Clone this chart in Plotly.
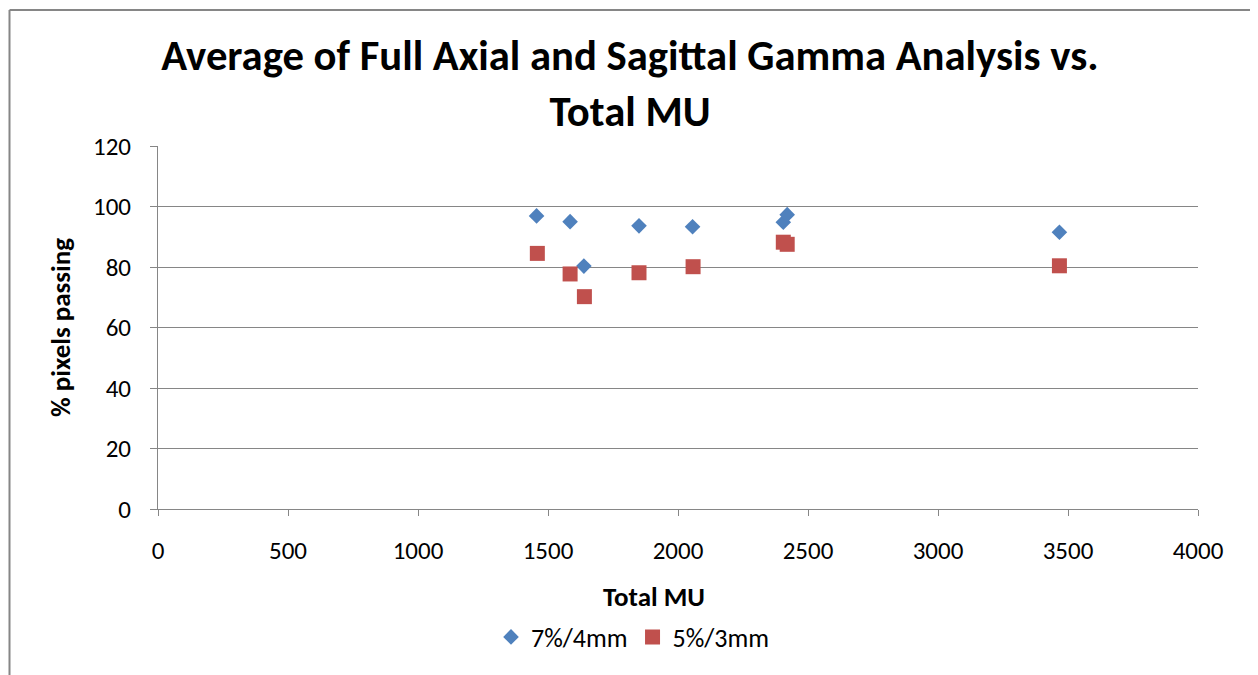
import plotly.graph_objects as go

# Data
mu_7_4 = [1456, 1585, 1638, 1850, 2056, 2405, 2420, 3467]
pass_7_4 = [96.9, 95.0, 80.3, 93.6, 93.3, 94.8, 97.3, 91.5]
mu_5_3 = [1459, 1585, 1640, 1850, 2058, 2405, 2420, 3467]
pass_5_3 = [84.5, 77.7, 70.2, 78.1, 80.1, 88.2, 87.5, 80.4]

FONT = "Carlito, Calibri, 'Liberation Sans Narrow', 'Open Sans', sans-serif"

# page has an 8px body margin; figure placed so plot area sits at screen x 158..1198, y 146..509
W, H = 1250, 667
PW, PH = 1040, 363

def px_x(sx):
    return (sx - 158) / PW

def px_y(sy):
    return (509 - sy) / PH

fig = go.Figure()
fig.add_trace(go.Scatter(
    x=mu_7_4, y=pass_7_4, mode="markers", name="7%/4mm",
    marker=dict(symbol="diamond", size=12, color="#4F81BD"),
))
fig.add_trace(go.Scatter(
    x=mu_5_3, y=pass_5_3, mode="markers", name="5%/3mm",
    marker=dict(symbol="square", size=15, color="#C0504D"),
))

border = dict(color="#868686", width=2)
fig.update_layout(
    width=W, height=H,
    margin=dict(l=150, r=60, t=138, b=166),
    paper_bgcolor="white", plot_bgcolor="white",
    font=dict(family=FONT, size=25, color="black"),
    showlegend=True,
    legend=dict(orientation="h", x=px_x(633), xanchor="center", y=px_y(637), yanchor="middle",
                font=dict(size=26), itemsizing="trace", traceorder="normal"),
    title=dict(text="<b>Average of Full Axial and Sagittal Gamma Analysis vs.<br>Total MU</b>",
               x=px_x(630), xref="paper", xanchor="center", y=0.9065, yanchor="middle",
               font=dict(size=42.7, family=FONT)),
    xaxis=dict(range=[0, 4000], dtick=500, tick0=0, showgrid=False,
               showline=True, linecolor="#868686", linewidth=1,
               ticks="outside", ticklen=6, tickcolor="#868686",
               ticklabelstandoff=13, zeroline=False),
    yaxis=dict(range=[0, 120], dtick=20, tick0=0, showgrid=True, gridcolor="#868686",
               gridwidth=1, showline=True, linecolor="#868686", linewidth=1,
               ticks="outside", ticklen=7, tickcolor="#868686",
               ticklabelstandoff=14, zeroline=False),
    annotations=[
        dict(text="<b>Total MU</b>", xref="paper", yref="paper", x=px_x(654), y=px_y(596),
             xanchor="center", yanchor="middle", showarrow=False, font=dict(size=27)),
        dict(text="<b>% pixels passing</b>", xref="paper", yref="paper",
             x=px_x(60), y=px_y(328), textangle=-90,
             xanchor="center", yanchor="middle", showarrow=False, font=dict(size=27)),
    ],
    shapes=[
        dict(type="line", xref="paper", yref="paper",
             x0=px_x(9.5), x1=px_x(9.5), y0=px_y(675), y1=px_y(10), line=border),
        dict(type="line", xref="paper", yref="paper",
             x0=px_x(9.5), x1=px_x(1252), y0=px_y(10), y1=px_y(10), line=border),
        dict(type="line", xref="paper", yref="paper",
             x0=px_x(1252), x1=px_x(1252), y0=px_y(675), y1=px_y(10), line=border),
    ],
)

fig.write_html("out.html")
